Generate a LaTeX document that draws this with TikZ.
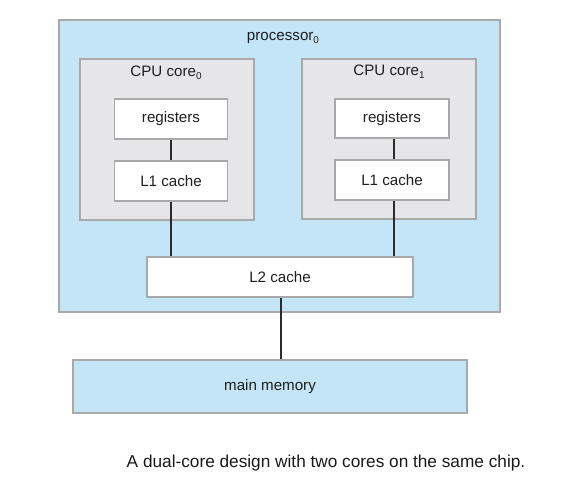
\documentclass[tikz,border=0pt]{standalone}
\usepackage{fontspec}
\setmainfont{Liberation Sans}
\definecolor{procblue}{HTML}{C3E5F6}
\definecolor{coregray}{HTML}{E6E6E8}
\definecolor{edgegray}{HTML}{A9A9A9}
\definecolor{linkdark}{HTML}{2B2B2B}
\newcommand{\lowsub}[1]{\raisebox{-0.35ex}{\fontsize{10}{10}\selectfont #1}}
\begin{document}
\begin{tikzpicture}[x=1bp,y=-1bp,
  boxstyle/.style={draw=edgegray,line width=1.3bp},
  labelstyle/.style={font=\fontsize{15.2}{18}\selectfont,text=black!88,inner sep=0pt},
  link/.style={draw=linkdark,line width=2bp}]
\useasboundingbox (0,0) rectangle (576,493);
% processor
\path[boxstyle,fill=procblue] (59,20) rectangle (500,312);
\node[labelstyle] (proclbl) at (283,38) {processor\lowsub{0}};
% cores
\path[boxstyle,fill=coregray] (80,59) rectangle (254,220);
\path[boxstyle,fill=coregray] (302,59) rectangle (476,219);
\node[labelstyle] (core0lbl) at (166,73) {CPU core\lowsub{0}};
\node[labelstyle] (core1lbl) at (389,72) {CPU core\lowsub{1}};
% inner boxes
\node[boxstyle,fill=white,labelstyle,minimum width=113bp,minimum height=40bp] (reg0) at (171,119) {registers};
\node[boxstyle,fill=white,labelstyle,minimum width=113bp,minimum height=40bp] (l10) at (171,181) {L1 cache};
\node[boxstyle,fill=white,labelstyle,minimum width=114bp,minimum height=39bp] (reg1) at (392,118.5) {registers};
\node[boxstyle,fill=white,labelstyle,minimum width=114bp,minimum height=40bp] (l11) at (392,180) {L1 cache};
\node[boxstyle,fill=white,labelstyle,minimum width=266bp,minimum height=40bp] (l2) at (280,277) {L2 cache};
\node[boxstyle,fill=procblue,labelstyle,minimum width=394bp,minimum height=53bp] (mem) at (270,386.5) {main memory};
% connectors
\draw[link] (reg0.south) -- (l10.north);
\draw[link] ([xshift=2bp]reg1.south) -- ([xshift=2bp]l11.north);
\draw[link] (l10.south) -- (l10.south |- l2.north);
\draw[link] ([xshift=2bp]l11.south) -- ([xshift=2bp]l11.south |- l2.north);
\draw[link] ([xshift=1bp]l2.south) -- ([xshift=1bp]l2.south |- mem.north);
% caption
\node[font=\fontsize{17.3}{20}\selectfont,text=black!90,inner sep=0pt] (caption) at (326,463) {A dual-core design with two cores on the same chip.};
\end{tikzpicture}
\end{document}
